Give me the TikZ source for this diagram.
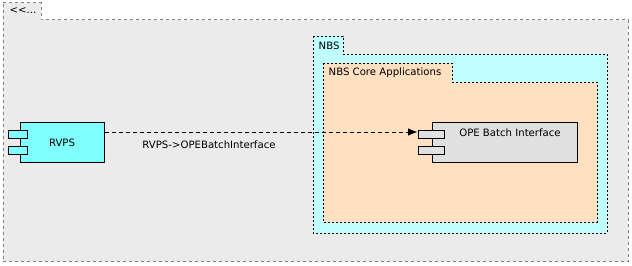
\documentclass[tikz,border=0pt]{standalone}
\usepackage{fontspec}
\setsansfont{DejaVu Sans}
\usetikzlibrary{arrows.meta}
\definecolor{framegray}{RGB}{235,235,235}
\definecolor{nbscyan}{RGB}{192,255,255}
\definecolor{corepeach}{RGB}{255,224,192}
\definecolor{compcyan}{RGB}{128,255,255}
\definecolor{compgray}{RGB}{224,224,224}
\begin{document}
\begin{tikzpicture}[x=0.75pt,y=-0.75pt,font=\sffamily\fontsize{7.6}{9}\selectfont,
  frame/.style={draw=black!50,fill=framegray,line width=0.75pt,dash pattern=on 2.25pt off 2.25pt},
  pkg/.style={draw=black,line width=0.7pt,dash pattern=on 1.5pt off 1.5pt},
  comp/.style={draw=black,line width=0.75pt,inner sep=0pt,minimum width=#1},
  port/.style={draw=black,line width=0.75pt,inner sep=0pt,minimum width=#1,minimum height=6pt}]
  \useasboundingbox (0,0) rectangle (632,266);
  % outer frame with its tab
  \draw[frame] (3,3) -- (41,3) -- (41,20) -- (628,20) -- (628,262) -- (3,262) -- cycle;
  \node[anchor=west] (frametab) at (5,11) {{<}{<}...};
  % NBS package
  \draw[pkg,fill=nbscyan] (313,36) -- (343,36) -- (343,54) -- (607,54) -- (607,233) -- (313,233) -- cycle;
  \node[anchor=west] (nbstab) at (314,45.5) {NBS};
  % NBS Core Applications package
  \draw[pkg,fill=corepeach] (323,63) -- (452,63) -- (452,82) -- (597,82) -- (597,222) -- (323,222) -- cycle;
  \node[anchor=west] (coretab) at (324,73) {NBS Core Applications};
  % components
  \node[comp=63pt,minimum height=30pt,fill=compcyan] (rvps) at (62,143) {RVPS};
  \node[port=14.25pt,fill=compcyan] (rvpsport1) at (17.5,135) {};
  \node[port=14.25pt,fill=compcyan] (rvpsport2) at (17.5,151) {};
  \node[comp=108.75pt,minimum height=30pt,fill=compgray] (ope) at (504.5,143) {};
  \node (opelabel) at (510,133) {OPE Batch Interface};
  \node[port=19.5pt,fill=compgray] (opeport1) at (431,135) {};
  \node[port=19.5pt,fill=compgray] (opeport2) at (431,151) {};
  % dependency
  \draw[dashed,dash pattern=on 3pt off 2.25pt,line width=0.6pt,-{Latex[length=7pt,width=5.5pt]}]
    (rvps.east |- 0,132) -- (opeport1.west |- 0,132);
  \node (deplabel) at (209,145) {RVPS->OPEBatchInterface};
\end{tikzpicture}
\end{document}
